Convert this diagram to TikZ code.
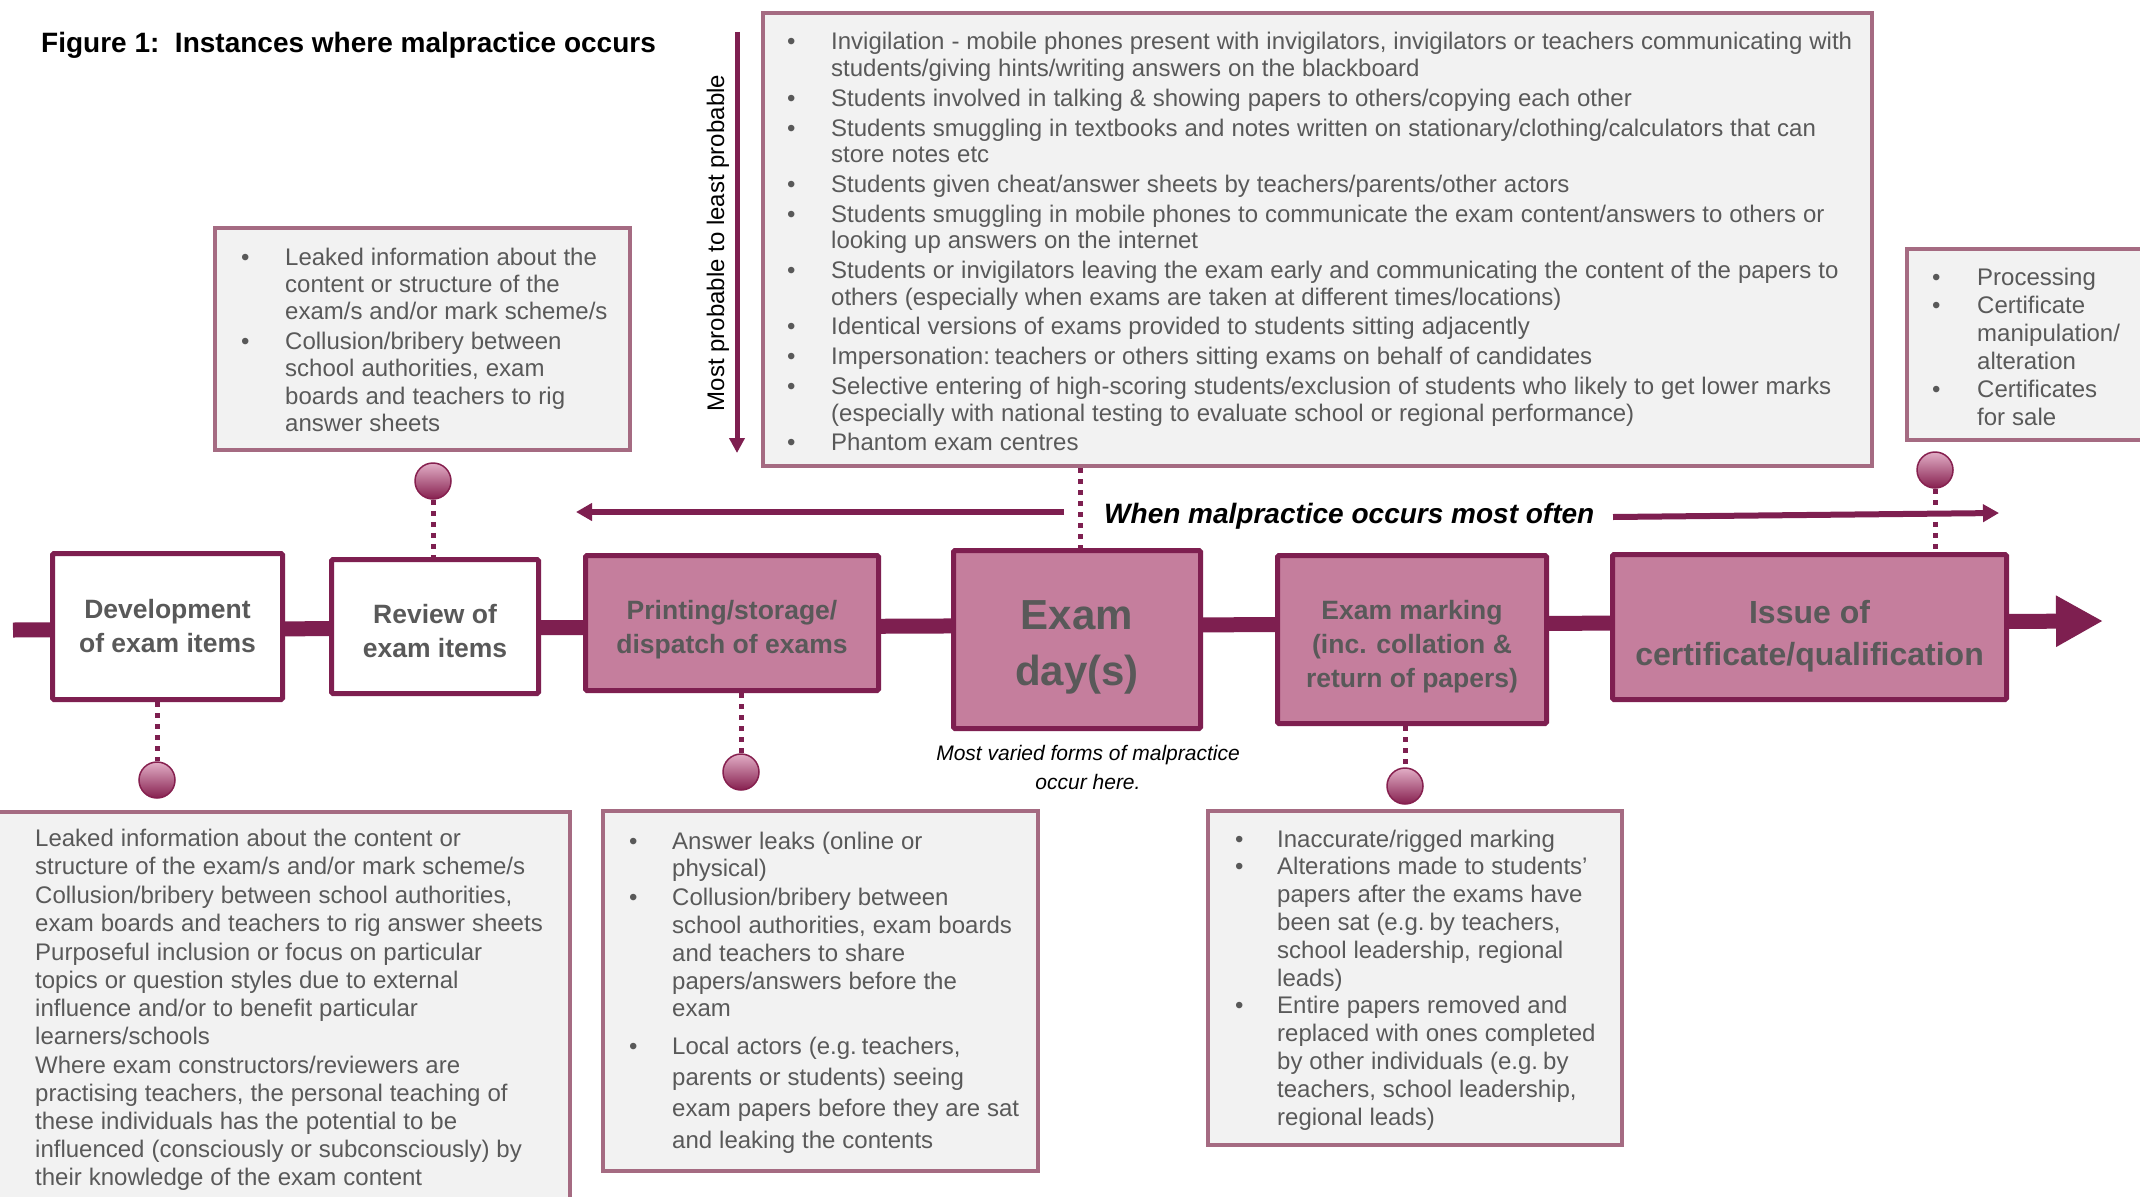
\documentclass[tikz,border=0pt]{standalone}
\usepackage{fontspec}
\setmainfont{Liberation Sans}
\usetikzlibrary{arrows.meta,calc}
\definecolor{maroon}{HTML}{7E1F50}
\definecolor{pinkfill}{HTML}{C57E9D}
\definecolor{mauve}{HTML}{A56B82}
\definecolor{lightfill}{HTML}{F2F2F2}
\definecolor{txtgray}{HTML}{595959}
\definecolor{pinlight}{HTML}{E2AEC6}
\definecolor{pindark}{HTML}{86204F}
\newlength\bhang
\newcommand\nl{\hfil\break}
\newcommand\bitem[1]{\noindent\hangindent=\bhang\hangafter=1\hbox to\bhang{\textbullet\hfil}#1\par}
\newcommand\pitem[1]{\noindent#1\par}
\newcommand\lsetup[3]{\fontsize{#1}{#2}\selectfont\spaceskip=0.29em\relax\setlength\parskip{#3}}
\newcommand\mfont{\fontsize{26.5pt}{34pt}\selectfont\bfseries}
\tikzset{
  mainbox/.style={draw=maroon, line width=5pt, rounded corners=1.5pt, inner sep=0pt},
  whitebox/.style={mainbox, fill=white},
  pinkbox/.style={mainbox, fill=pinkfill},
  boxtext/.style={inner sep=0pt, align=center, text=txtgray},
  listbox/.style={draw=mauve, line width=4pt, fill=lightfill, inner sep=0pt},
  listtext/.style={anchor=base west, inner sep=0pt, text width=1200pt, text=txtgray},
  pin/.style={circle, draw=pindark, line width=1.5pt, minimum size=36pt, inner sep=0pt, top color=pinlight, bottom color=pindark},
  dots/.style={draw=maroon, line width=5pt, dash pattern=on 5pt off 6pt},
  spine/.style={draw=maroon, line width=15pt},
  warrow/.style={draw=maroon, line width=6pt},
}
\begin{document}
\begin{tikzpicture}[x=1pt,y=-1pt]
\clip (0,0) rectangle (2140,1196);
\fill[white] (0,0) rectangle (2140,1196);

% title
\node[anchor=base west, inner sep=0pt, font=\fontsize{28pt}{34pt}\selectfont\bfseries] (title) at (41,53) {Figure 1:\ \ Instances where malpractice occurs};

% spine
\coordinate (sL) at (13,630);
\coordinate (sR) at (2103,621);
\draw[spine, -{Triangle[length=47pt,width=48pt]}] (sL) -- (sR);

% list boxes
\node[listbox, minimum width=415pt, minimum height=222pt] (tl) at (422.5,339) {};
\node[listbox, minimum width=1109pt, minimum height=453pt] (topc) at (1317.5,239.5) {};
\node[listbox, minimum width=251pt, minimum height=191pt] (tr) at (2032.5,344.5) {};
\node[listbox, minimum width=578pt, minimum height=406pt] (bl) at (281,1015) {};
\node[listbox, minimum width=435pt, minimum height=360pt] (bm) at (820.5,991) {};
\node[listbox, minimum width=414pt, minimum height=334pt] (br) at (1415,978) {};

% main boxes
\node[whitebox, minimum width=230pt, minimum height=146pt] (dev) at (167.5,626.5) {};
\node[whitebox, minimum width=207pt, minimum height=134pt] (rev) at (435,626.5) {};
\node[pinkbox, minimum width=293pt, minimum height=135pt] (print) at (732,623) {};
\node[pinkbox, minimum width=247pt, minimum height=178pt] (exam) at (1077,639.5) {};
\node[pinkbox, minimum width=269pt, minimum height=168pt] (mark) at (1412,639.5) {};
\node[pinkbox, minimum width=394pt, minimum height=145pt] (issue) at (1809.5,627) {};

\node[boxtext, font=\mfont] (devT) at ([yshift=0pt]dev.center) {Development\\of exam items};
\node[boxtext, font=\mfont] (revT) at ([yshift=-5pt]rev.center) {Review of\\exam items};
\node[boxtext, font=\mfont] (printT) at ([yshift=-7pt]print.center) {Printing/storage/\\dispatch of exams};
\node[boxtext, font=\fontsize{42pt}{56pt}\selectfont\bfseries] (examT) at ([yshift=-8pt]exam.center) {Exam\\day(s)};
\node[boxtext, font=\mfont] (markT) at ([yshift=-7pt]mark.center) {Exam marking\\(inc. collation \&\\return of papers)};
\node[boxtext, font=\fontsize{32pt}{42pt}\selectfont\bfseries] (issueT) at ([yshift=-9pt]issue.center) {Issue of\\certificate/qualification};

% pins
\node[pin] (pinRev) at (433,481) {};
\node[pin] (pinDev) at (157,780) {};
\node[pin] (pinPrint) at (741,772) {};
\node[pin] (pinMark) at (1405,786) {};
\node[pin] (pinIssue) at (1935,470) {};
\coordinate (xd) at (1080,0);

\draw[dots] (pinRev.south) -- (rev.north -| pinRev);
\draw[dots] (dev.south -| pinDev) -- (pinDev.north);
\draw[dots] (print.south -| pinPrint) -- (pinPrint.north);
\draw[dots] (mark.south -| pinMark) -- (pinMark.north);
\draw[dots] (pinIssue.south) -- (issue.north -| pinIssue);
\draw[dots] (topc.south -| xd) -- (exam.north -| xd);

% vertical arrow
\coordinate (va1) at (737,32);
\coordinate (va2) at (737,453);
\draw[draw=maroon, line width=5pt, -{Triangle[length=15pt,width=15pt]}] (va1) -- (va2);
\node[rotate=90, inner sep=0pt, font=\fontsize{24pt}{28pt}\selectfont] (vtext) at (718,243) {Most probable to least probable};

% when arrows
\coordinate (wl1) at (1064,512);
\coordinate (wl2) at (576,512);
\coordinate (wr1) at (1613,517);
\coordinate (wr2) at (1999,513);
\draw[warrow, -{Triangle[length=16pt,width=17pt]}] (wl1) -- (wl2);
\draw[warrow, -{Triangle[length=16pt,width=17pt]}] (wr1) -- (wr2);
\node[anchor=base west, inner sep=0pt, font=\fontsize{28pt}{34pt}\selectfont\bfseries\itshape] (when) at (1104,523) {When malpractice occurs most often};

\node[align=center, inner sep=0pt, font=\fontsize{21pt}{29pt}\selectfont\itshape] (varied) at (1088,767) {Most varied forms of malpractice\\occur here.};

% list texts
\node[listtext] (tctext) at (787,50) {\lsetup{24pt}{26.7pt}{3pt}\setlength\bhang{44pt}%
\bitem{Invigilation - mobile phones present with invigilators, invigilators or teachers communicating with\nl students/giving hints/writing answers on the blackboard}
\bitem{Students involved in talking \& showing papers to others/copying each other}
\bitem{Students smuggling in textbooks and notes written on stationary/clothing/calculators that can\nl store notes etc}
\bitem{Students given cheat/answer sheets by teachers/parents/other actors}
\bitem{Students smuggling in mobile phones to communicate the exam content/answers to others or\nl looking up answers on the internet}
\bitem{Students or invigilators leaving the exam early and communicating the content of the papers to\nl others (especially when exams are taken at different times/locations)}
\bitem{Identical versions of exams provided to students sitting adjacently}
\bitem{Impersonation: teachers or others sitting exams on behalf of candidates}
\bitem{Selective entering of high-scoring students/exclusion of students who likely to get lower marks\nl (especially with national testing to evaluate school or regional performance)}
\bitem{Phantom exam centres}};

\node[listtext] (tltext) at (241,265) {\lsetup{24pt}{27.3pt}{2.5pt}\setlength\bhang{44pt}%
\bitem{Leaked information about the\nl content or structure of the\nl exam/s and/or mark scheme/s}
\bitem{Collusion/bribery between\nl school authorities, exam\nl boards and teachers to rig\nl answer sheets}};

\node[listtext] (trtext) at (1932,285) {\lsetup{24pt}{28pt}{0pt}\setlength\bhang{45pt}%
\bitem{Processing}
\bitem{Certificate\nl manipulation/\nl alteration}
\bitem{Certificates\nl for sale}};

\node[listtext] (bltext) at (35,846) {\lsetup{24pt}{28pt}{1pt}%
\pitem{Leaked information about the content or\nl structure of the exam/s and/or mark scheme/s}
\pitem{Collusion/bribery between school authorities,\nl exam boards and teachers to rig answer sheets}
\pitem{Purposeful inclusion or focus on particular\nl topics or question styles due to external\nl influence and/or to benefit particular\nl learners/schools}
\pitem{Where exam constructors/reviewers are\nl practising teachers, the personal teaching of\nl these individuals has the potential to be\nl influenced (consciously or subconsciously) by\nl their knowledge of the exam content}};

\node[listtext] (bmtext) at (629,849) {\lsetup{24pt}{27.8pt}{1pt}\setlength\bhang{43pt}%
\bitem{Answer leaks (online or\nl physical)}
\bitem{Collusion/bribery between\nl school authorities, exam boards\nl and teachers to share\nl papers/answers before the\nl exam}\vskip5pt
\fontsize{24pt}{31.3pt}\selectfont\spaceskip=0.29em\relax
\bitem{Local actors (e.g. teachers,\nl parents or students) seeing\nl exam papers before they are sat\nl and leaking the contents}};

\node[listtext] (brtext) at (1235,847) {\lsetup{24pt}{27.8pt}{0pt}\setlength\bhang{42pt}%
\bitem{Inaccurate/rigged marking}
\bitem{Alterations made to students’\nl papers after the exams have\nl been sat (e.g. by teachers,\nl school leadership, regional\nl leads)}
\bitem{Entire papers removed and\nl replaced with ones completed\nl by other individuals (e.g. by\nl teachers, school leadership,\nl regional leads)}};
\end{tikzpicture}
\end{document}
